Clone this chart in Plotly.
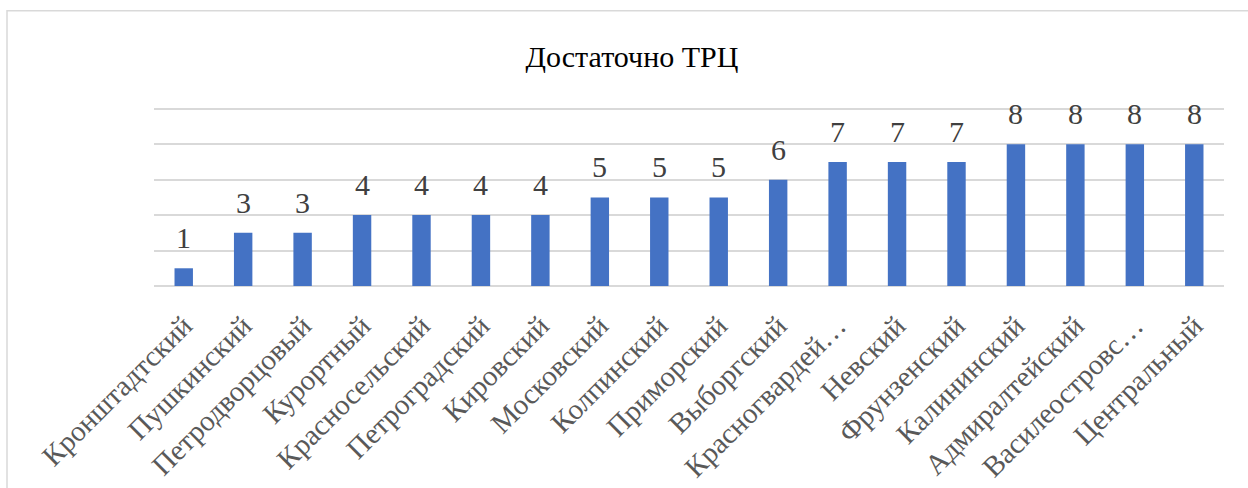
import plotly.graph_objects as go

districts = ["Кронштадтский", "Пушкинский", "Петродворцовый", "Курортный", "Красносельский",
             "Петроградский", "Кировский", "Московский", "Колпинский", "Приморский", "Выборгский",
             "Красногвардей…", "Невский", "Фрунзенский", "Калининский", "Адмиралтейский",
             "Василеостровс…", "Центральный"]
values = [1, 3, 3, 4, 4, 4, 4, 5, 5, 5, 6, 7, 7, 7, 8, 8, 8, 8]

FONT = "Liberation Serif"
W, H = 1248, 488
L, R, T, B = 154, 24, 106.5, 202

fig = go.Figure(go.Bar(
    x=districts, y=values,
    marker=dict(color="#4472C4", line=dict(width=0)),
    width=0.31,
    cliponaxis=False,
))

for d, v in zip(districts, values):
    fig.add_annotation(x=d, y=v, text=str(v), showarrow=False, yanchor="bottom",
                       yshift=12, font=dict(family=FONT, size=30, color="#404040"))

pw, ph = W - L - R, H - T - B
fig.add_shape(type="rect", xref="paper", yref="paper",
              x0=(7 - L) / pw, x1=1.2, y0=-1.5, y1=(H - B - 10) / ph,
              line=dict(color="#d9d9d9", width=1.5), fillcolor="rgba(0,0,0,0)", layer="below")

fig.update_layout(
    width=W, height=H,
    margin=dict(l=L, r=R, t=T, b=B, autoexpand=False),
    paper_bgcolor="white", plot_bgcolor="white",
    showlegend=False,
    title=dict(text="Достаточно ТРЦ", x=632 / W, xanchor="center", y=1 - 56 / H, yanchor="middle",
               xref="container", yref="container", font=dict(family=FONT, size=30, color="#000000")),
    xaxis=dict(tickangle=-45, tickfont=dict(family=FONT, size=29, color="#595959"),
               ticklabelstandoff=16,
               showgrid=False, showline=False, ticks="", fixedrange=True, automargin=False),
    yaxis=dict(range=[0, 10.1], tickvals=[2, 4, 6, 8, 10], showticklabels=False, showgrid=True,
               gridcolor="#d9d9d9", gridwidth=1.5, zeroline=True, zerolinecolor="#d9d9d9",
               zerolinewidth=1.5, showline=False, ticks="", automargin=False),
    bargap=0.69,
)

fig.write_html("out.html", config={"displayModeBar": False},
               post_script="document.body.style.margin='0px';")
